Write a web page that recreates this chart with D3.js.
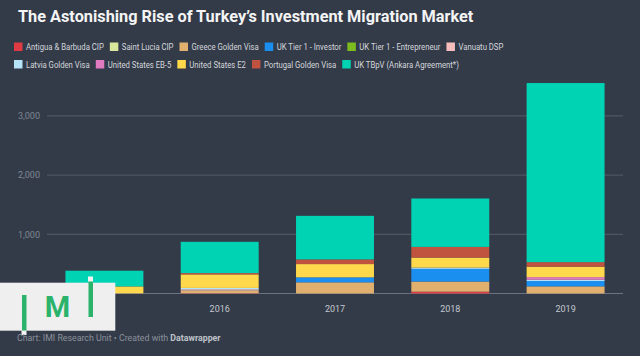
<!DOCTYPE html>
<html><head><meta charset="utf-8">
<script src="https://cdn.jsdelivr.net/npm/d3@7"></script>
<style>
html,body{margin:0;padding:0;background:#333b49;}
svg{display:block;font-family:Roboto,"Noto Sans",sans-serif;}
</style></head>
<body>
<svg id="c" width="640" height="356"></svg>
<script>
const years = ["2015","2016","2017","2018","2019"];
const seriesNames = ["Antigua & Barbuda CIP","Saint Lucia CIP","Greece Golden Visa","UK Tier 1 - Investor","UK Tier 1 - Entrepreneur","Vanuatu DSP","Latvia Golden Visa","United States EB-5","United States E2","Portugal Golden Visa","UK TBpV (Ankara Agreement*)"];
const seriesColors = ["#e03a43","#d9e79c","#e2b06e","#1a8ff0","#7cbc1f","#f7bdbd","#b5e3f7","#df7bbe","#ffd84b","#c0533f","#00d2b4"];
const antigua     = [0, 5, 0, 30, 0];
const saintLucia  = [0, 0, 0, 0, 0];
const greece      = [5, 45, 189, 172, 121];
const ukInvestor  = [0, 0, 84, 214, 89];
const ukEntrep    = [0, 0, 0, 0, 0];
const vanuatu     = [0, 22, 0, 0, 0];
const latvia      = [0, 22, 0, 22, 22];
const usEB5       = [0, 0, 0, 0, 45];
const usE2        = [115, 229, 224, 169, 177];
const portugal    = [0, 22, 79, 180, 76];
const ukTBpV      = [265, 528, 736, 818, 3025];
const yTicks = [0, 1000, 2000, 3000];

const allSeries = [antigua, saintLucia, greece, ukInvestor, ukEntrep, vanuatu, latvia, usEB5, usE2, portugal, ukTBpV];
const rows = years.map((y, i) => { const o = {year: y}; seriesNames.forEach((s, k) => o[s] = allSeries[k][i]); return o; });

const svg = d3.select("#c");
svg.append("rect").attr("width",640).attr("height",356).attr("fill","#333b49");

// title
svg.append("text").attr("x",18).attr("y",21.5).attr("fill","#f4f4f4")
  .attr("font-size","16.3px").attr("font-weight","bold")
  .text("The Astonishing Rise of Turkey\u2019s Investment Migration Market");

// legend
const leg = svg.append("g");
const sx = 0.88;
let lx = 14, ly = 42.5;
seriesNames.forEach((s, k) => {
  if (k === 6) { lx = 14; ly = 60; }
  const g = leg.append("g").attr("transform", `translate(${lx},${ly})`);
  g.append("rect").attr("width",8.5).attr("height",8.5).attr("fill",seriesColors[k]);
  const t = g.append("text").attr("transform","translate(12,7.6) scale(" + sx + ",1)")
    .attr("font-size","8.8px").attr("fill","#d3d6db").text(s);
  lx += 12 + t.node().getComputedTextLength() * sx + 6;
});

const x = d3.scaleBand().domain(years).range([47, 623]).paddingInner(0.324).paddingOuter(0.16);
const y = d3.scaleLinear().domain([0, 3000]).range([293.5, 115.9]);

// grid
const grid = svg.append("g");
yTicks.forEach(t => {
  grid.append("line").attr("x1",47).attr("x2",623).attr("y1",y(t)).attr("y2",y(t))
    .attr("stroke", t === 0 ? "#6b7280" : "#555d6b").attr("stroke-width",1);
  if (t > 0) grid.append("text").attr("x",40).attr("y",y(t)+3.3).attr("text-anchor","end")
    .attr("font-size","9px").attr("fill","#7f8692").text(d3.format(",")(t));
});

// bars
const stack = d3.stack().keys(seriesNames)(rows);
svg.append("g").selectAll("g").data(stack).join("g")
  .attr("fill", (d, k) => seriesColors[k])
  .selectAll("rect").data(d => d).join("rect")
  .attr("x", d => x(d.data.year)).attr("width", x.bandwidth())
  .attr("y", d => y(d[1])).attr("height", d => y(d[0]) - y(d[1]));

// x axis labels
years.forEach(yr => {
  svg.append("text").attr("x", x(yr) + x.bandwidth()/2).attr("y", 311.5).attr("text-anchor","middle")
    .attr("font-size","9px").attr("fill","#c4c8ce").text(yr);
});

// logo
const logo = svg.append("g");
logo.append("rect").attr("x",0).attr("y",282.7).attr("width",115.3).attr("height",48).attr("fill","#efefef");
logo.append("rect").attr("x",22).attr("y",295).attr("width",4.5).attr("height",36).attr("fill","#2bb36c");
logo.append("rect").attr("x",21.5).attr("y",330.5).attr("width",5).attr("height",4.5).attr("fill","#f4f4f4");
logo.append("rect").attr("x",88.5).attr("y",281).attr("width",4.5).attr("height",36).attr("fill","#2bb36c");
logo.append("rect").attr("x",88).attr("y",276.5).attr("width",5).attr("height",5).attr("fill","#f4f4f4");
logo.append("text").attr("x",57.5).attr("y",317).attr("text-anchor","middle").attr("font-size","29px")
  .attr("font-weight","bold").attr("fill","#2bb36c").text("M");

// footer
const ft = svg.append("text").attr("x",17).attr("y",341).attr("font-size","8.8px").attr("fill","#8b919b");
ft.append("tspan").text("Chart: IMI Research Unit \u2022 Created with ");
ft.append("tspan").attr("font-weight","bold").attr("fill","#bfc3c9").text("Datawrapper");
</script>
</body></html>
